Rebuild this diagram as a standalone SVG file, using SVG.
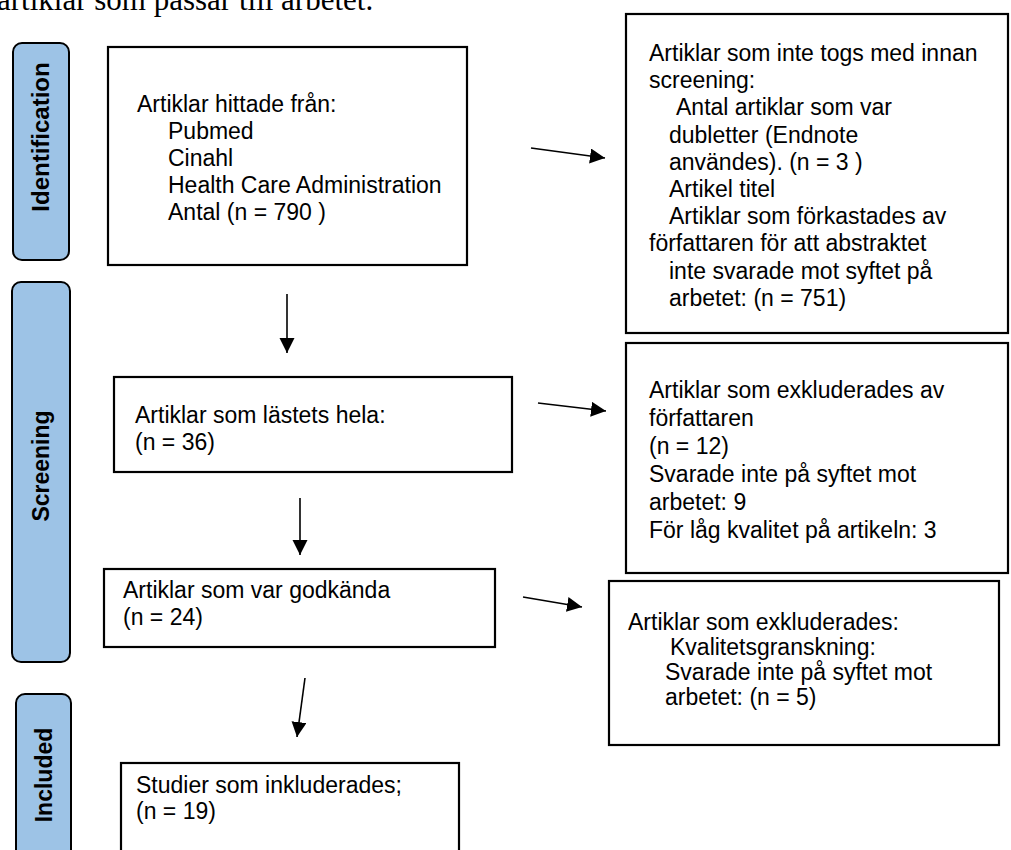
<svg xmlns="http://www.w3.org/2000/svg" width="1011" height="850" viewBox="0 0 1011 850">
<style>
.box{fill:#fff;stroke:#000;stroke-width:2.2}
.side{fill:#9dc3e6;stroke:#000;stroke-width:2}
.t{font-family:"Liberation Sans",Arial,sans-serif;font-size:23px;fill:#000}
.s{font-family:"Liberation Sans",Arial,sans-serif;font-size:23px;font-weight:bold;fill:#000;text-anchor:middle}
.c{stroke:#000;stroke-width:1.6;fill:none;marker-end:url(#ah)}
</style>
<defs>
<marker id="ah" markerUnits="userSpaceOnUse" markerWidth="16" markerHeight="16" refX="15" refY="7.5" orient="auto">
<path d="M0,0 L15,7.5 L0,15 z" fill="#000"/>
</marker>
</defs>
<rect width="1011" height="850" fill="#fff"/>
<text x="-3" y="10" style="font-family:'Liberation Serif','Times New Roman',serif;font-size:31px">artiklar som passar till arbetet.</text>

<g id="phase-identification">
<rect class="side" x="13" y="43" width="56" height="217" rx="9"/>
<text class="s" transform="translate(49,137) rotate(-90)" style="font-size:24px">Identification</text>
</g>
<g id="phase-screening">
<rect class="side" x="12" y="282" width="58" height="380" rx="9"/>
<text class="s" transform="translate(49,466) rotate(-90)">Screening</text>
</g>
<g id="phase-included">
<rect class="side" x="16" y="694" width="55" height="180" rx="9"/>
<text class="s" transform="translate(52,775) rotate(-90)">Included</text>
</g>

<g id="n-identified">
<rect class="box" x="108" y="47" width="359" height="218"/>
<text class="t" x="137" y="112">Artiklar hittade från:</text>
<text class="t" x="168" y="139">Pubmed</text>
<text class="t" x="168" y="166">Cinahl</text>
<text class="t" x="168" y="193">Health Care Administration</text>
<text class="t" x="168" y="220">Antal (n = 790 )</text>
</g>

<g id="n-removed">
<rect class="box" x="626" y="14" width="382" height="319"/>
<text class="t" x="649" y="61">Artiklar som inte togs med innan</text>
<text class="t" x="649" y="88">screening:</text>
<text class="t" x="676" y="115">Antal artiklar som var</text>
<text class="t" x="669" y="143">dubletter (Endnote</text>
<text class="t" x="669" y="170">användes). (n = 3 )</text>
<text class="t" x="669" y="197">Artikel titel</text>
<text class="t" x="669" y="224">Artiklar som förkastades av</text>
<text class="t" x="649" y="251">författaren för att abstraktet</text>
<text class="t" x="669" y="279">inte svarade mot syftet på</text>
<text class="t" x="669" y="306">arbetet: (n = 751)</text>
</g>

<g id="n-fulltext">
<rect class="box" x="114" y="377" width="398" height="95"/>
<text class="t" x="135" y="423">Artiklar som lästets hela:</text>
<text class="t" x="135" y="450">(n = 36)</text>
</g>

<g id="n-excluded-author">
<rect class="box" x="626" y="343" width="382" height="230"/>
<text class="t" x="649" y="398">Artiklar som exkluderades av</text>
<text class="t" x="649" y="426">författaren</text>
<text class="t" x="649" y="454">(n = 12)</text>
<text class="t" x="649" y="482">Svarade inte på syftet mot</text>
<text class="t" x="649" y="510">arbetet: 9</text>
<text class="t" x="649" y="538">För låg kvalitet på artikeln: 3</text>
</g>

<g id="n-approved">
<rect class="box" x="104" y="569" width="391" height="78"/>
<text class="t" x="123" y="598">Artiklar som var godkända</text>
<text class="t" x="123" y="625">(n = 24)</text>
</g>

<g id="n-excluded-quality">
<rect class="box" x="609" y="581" width="390" height="164"/>
<text class="t" x="628" y="630">Artiklar som exkluderades:</text>
<text class="t" x="670" y="655">Kvalitetsgranskning:</text>
<text class="t" x="665" y="680">Svarade inte på syftet mot</text>
<text class="t" x="665" y="705">arbetet: (n = 5)</text>
</g>

<g id="n-included">
<rect class="box" x="121" y="763" width="338" height="95"/>
<text class="t" x="136" y="793">Studier som inkluderades;</text>
<text class="t" x="136" y="819">(n = 19)</text>
</g>

<g id="connectors">
<line class="c" x1="531" y1="148" x2="605" y2="158"/>
<line class="c" x1="538" y1="403" x2="606" y2="411"/>
<line class="c" x1="523" y1="597" x2="582" y2="607"/>
<line class="c" x1="287" y1="294" x2="287" y2="353"/>
<line class="c" x1="300" y1="498" x2="300" y2="555"/>
<line class="c" x1="305" y1="678" x2="297" y2="737"/>
</g>
</svg>
